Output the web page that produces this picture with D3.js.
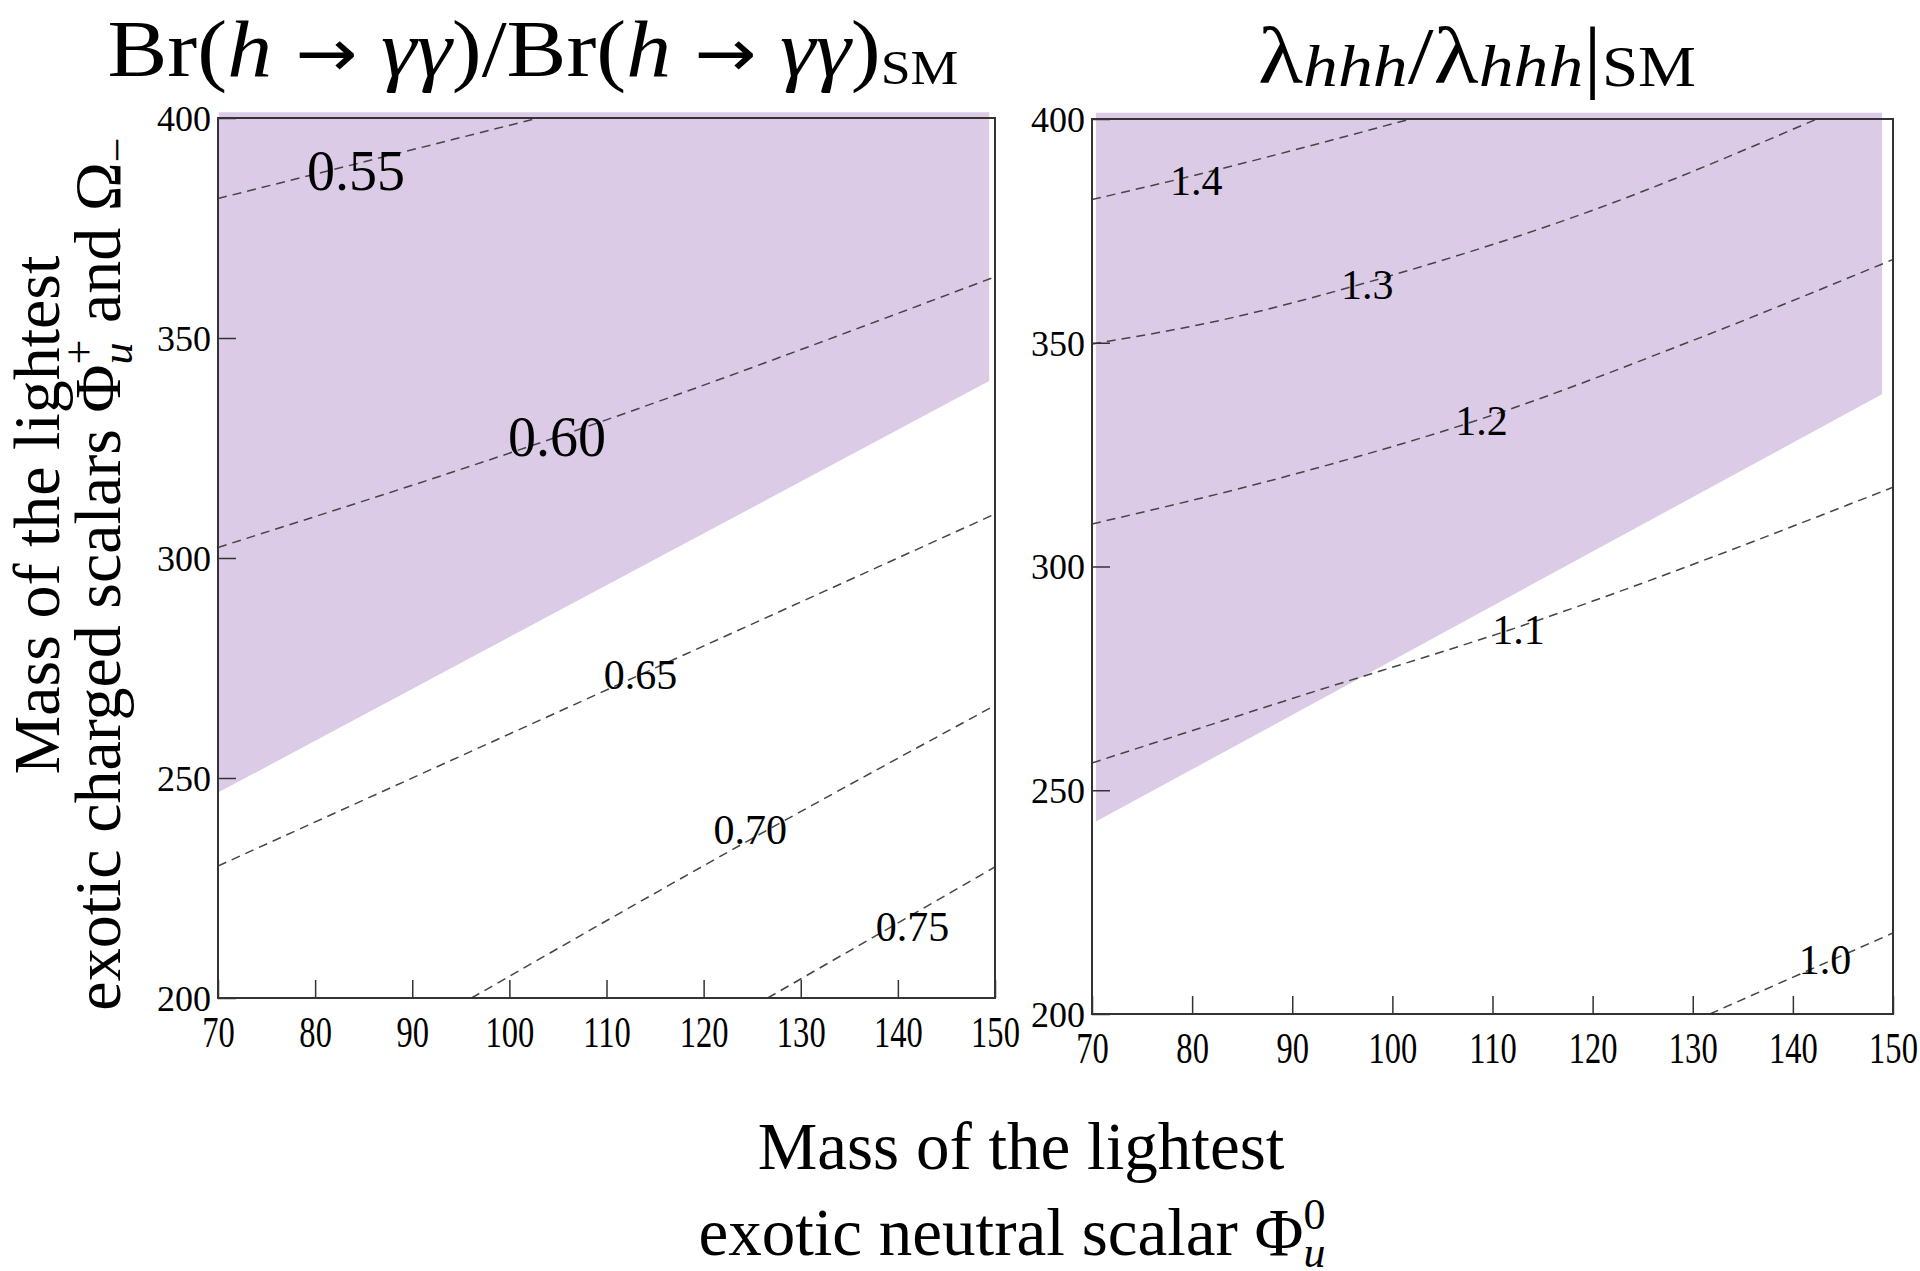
<!DOCTYPE html>
<html>
<head>
<meta charset="utf-8">
<script src="https://cdn.jsdelivr.net/npm/d3@7"></script>
<style>
  body { margin: 0; background: #fff; }
  text { font-family: "Liberation Serif", "Times New Roman", serif; fill: #000; }
</style>
</head>
<body>
<svg id="chart" width="1920" height="1271"></svg>
<script>
// Axis values
const xTicks = [70, 80, 90, 100, 110, 120, 130, 140, 150];
const yTicks = [200, 250, 300, 350, 400];

// Shaded (excluded) regions, in data coordinates
const brRegion = [[70.1, 401.3], [149.4, 401.3], [149.4, 340.2], [70.1, 246.8]];
const lamRegion = [[70.4, 401.4], [148.9, 401.4], [148.9, 338.5], [70.4, 243.0]];

// Br(h->yy) ratio contours
const brLevels = ["0.55", "0.60", "0.65", "0.70", "0.75"];
const brLines = [
  [[70, 381.7], [103, 400]],
  [[70, 302.4], [104.9, 327.5], [150, 363.9]],
  [[70, 230.0], [113.5, 273.5], [150, 310.0]],
  [[96.1, 200], [124.8, 236.0], [150, 266.5]],
  [[126.6, 200], [150, 229.8]]
];
const brLabelAt = [[84.2, 387.9], [104.9, 327.5], [113.5, 273.5], [124.8, 238.1], [141.5, 216.1]];

// lambda_hhh ratio contours
const lamLevels = ["1.4", "1.3", "1.2", "1.1", "1.0"];
const lamLines = [
  [[70, 382.0], [80.4, 387.5], [101.8, 400]],
  [[70, 349.7], [83.2, 355.2], [97.5, 363.5], [120, 379.6], [142.4, 400]],
  [[70, 309.5], [90, 320.5], [108.9, 333.0], [130, 350.5], [150, 368.6]],
  [[70, 256.1], [90, 270.5], [112.6, 286.5], [150, 317.7]],
  [[131.7, 200], [150, 218.1]]
];
const lamLabelAt = [[80.4, 386.1], [97.5, 362.8], [108.9, 332.5], [112.6, 285.9], [143.2, 212.1]];

const svg = d3.select("#chart");
const bigLabels = ["0.55", "0.60"];

function fitX(sel, target, cx) {
  const w = sel.node().getBBox().width;
  sel.attr("transform", `translate(${cx},0) scale(${target / w},1) translate(${-cx},0)`);
}

function drawPanel(p) {
  const x = d3.scaleLinear().domain([70, 150]).range([p.x0, p.x1]);
  const y = d3.scaleLinear().domain([200, 400]).range([p.y1, p.y0]);

  const g = svg.append("g");

  // Excluded region.
  g.append("path")
    .attr("d", d3.line().x(d => x(d[0])).y(d => y(d[1]))(p.region) + "Z")
    .attr("fill", "#dccbe6");

  svg.append("clipPath").attr("id", p.id)
    .append("rect")
    .attr("x", p.x0).attr("y", p.y0)
    .attr("width", p.x1 - p.x0).attr("height", p.y1 - p.y0);

  // Dashed contours.
  const line = d3.line().x(d => x(d[0])).y(d => y(d[1])).curve(d3.curveMonotoneX);
  g.append("g").attr("clip-path", `url(#${p.id})`)
    .selectAll("path")
    .data(p.lines)
    .join("path")
    .attr("d", line)
    .attr("fill", "none")
    .attr("stroke", "#444")
    .attr("stroke-width", 1.5)
    .attr("stroke-dasharray", "9,6");

  // Contour labels.
  g.selectAll("text.clab")
    .data(p.levels)
    .join("text")
    .attr("class", "clab")
    .attr("x", (d, i) => x(p.labelAt[i][0]))
    .attr("y", (d, i) => y(p.labelAt[i][1]))
    .attr("text-anchor", "middle")
    .attr("dominant-baseline", "central")
    .attr("font-size", d => bigLabels.includes(d) ? 56 : 42)
    .text(d => d);

  // Frame.
  g.append("rect")
    .attr("x", p.x0).attr("y", p.y0)
    .attr("width", p.x1 - p.x0).attr("height", p.y1 - p.y0)
    .attr("fill", "none")
    .attr("stroke", "#333")
    .attr("stroke-width", 2);

  // Bottom axis, inward ticks.
  const gx = g.append("g")
    .attr("transform", `translate(0,${p.y1})`)
    .call(d3.axisBottom(x).tickValues(xTicks).tickSize(-18).tickFormat(d3.format("d")));
  gx.select(".domain").remove();
  gx.selectAll(".tick line").attr("stroke", "#333").attr("stroke-width", 1.5);
  gx.selectAll(".tick text")
    .attr("y", 49).attr("dy", null)
    .attr("font-size", 44)
    .attr("font-family", null)
    .attr("fill", "#000")
    .attr("transform", "scale(0.74,1)");

  // Left axis, inward ticks.
  const gy = g.append("g")
    .attr("transform", `translate(${p.x0},0)`)
    .call(d3.axisLeft(y).tickValues(yTicks).tickSize(-18).tickPadding(7).tickFormat(d3.format("d")));
  gy.select(".domain").remove();
  gy.selectAll(".tick line").attr("stroke", "#333").attr("stroke-width", 1.5);
  gy.selectAll(".tick text")
    .attr("dy", "0.34em")
    .attr("font-size", 36)
    .attr("font-family", null)
    .attr("fill", "#000");
}

drawPanel({ id: "clipL", x0: 218, x1: 995, y0: 118, y1: 998,
  region: brRegion, lines: brLines, levels: brLevels, labelAt: brLabelAt });
drawPanel({ id: "clipR", x0: 1092, x1: 1893, y0: 119, y1: 1014,
  region: lamRegion, lines: lamLines, levels: lamLevels, labelAt: lamLabelAt });

// Titles.
const arrowFont = "DejaVu Sans";
const t1 = svg.append("text").attr("x", 533).attr("y", 76)
  .attr("text-anchor", "middle").attr("font-size", 80);
t1.append("tspan").text("Br(");
t1.append("tspan").attr("font-style", "italic").text("h");
t1.append("tspan").attr("font-family", arrowFont).attr("font-size", 66).text(" \u2192 ");
t1.append("tspan").attr("font-style", "italic").text("\u03b3\u03b3");
t1.append("tspan").text(")/Br(");
t1.append("tspan").attr("font-style", "italic").text("h");
t1.append("tspan").attr("font-family", arrowFont).attr("font-size", 66).text(" \u2192 ");
t1.append("tspan").attr("font-style", "italic").text("\u03b3\u03b3");
t1.append("tspan").text(")");
t1.append("tspan").attr("font-size", 48).attr("dy", 8).text("SM");
fitX(t1, 851, 533);

const t2 = svg.append("text").attr("x", 1477).attr("y", 83)
  .attr("text-anchor", "middle").attr("font-size", 80);
t2.append("tspan").text("\u03bb");
t2.append("tspan").attr("font-style", "italic").attr("font-size", 60).attr("dy", 3).text("hhh");
t2.append("tspan").attr("dy", -3).text("/\u03bb");
t2.append("tspan").attr("font-style", "italic").attr("font-size", 60).attr("dy", 3).text("hhh");
t2.append("tspan").attr("dy", -3).text("|");
t2.append("tspan").attr("font-size", 56).attr("dy", 3).text("SM");
fitX(t2, 438, 1477);

// X axis label.
svg.append("text").attr("x", 1021).attr("y", 1169)
  .attr("text-anchor", "middle").attr("font-size", 67)
  .text("Mass of the lightest");
const xl2 = svg.append("text").attr("x", 1012).attr("y", 1255)
  .attr("text-anchor", "middle").attr("font-size", 67);
xl2.append("tspan").text("exotic neutral scalar \u03a6");
xl2.append("tspan").attr("font-style", "italic").attr("font-size", 44).attr("dy", 12).text("u");
xl2.append("tspan").attr("font-size", 44).attr("dx", -22).attr("dy", -38).text("0");

// Y axis label.
svg.append("text").attr("transform", "translate(59,515) rotate(-90)")
  .attr("text-anchor", "middle").attr("font-size", 66)
  .text("Mass of the lightest");
const yl2 = svg.append("text").attr("transform", "translate(120,574) rotate(-90)")
  .attr("text-anchor", "middle").attr("font-size", 66);
yl2.append("tspan").text("exotic charged scalars \u03a6");
yl2.append("tspan").attr("font-style", "italic").attr("font-size", 44).attr("dy", 12).text("u");
yl2.append("tspan").attr("font-size", 44).attr("dx", -22).attr("dy", -38).text("+");
yl2.append("tspan").attr("dy", 26).text(" and \u03a9");
yl2.append("tspan").attr("font-size", 44).attr("dy", 12).text("\u2212");
</script>
</body>
</html>
